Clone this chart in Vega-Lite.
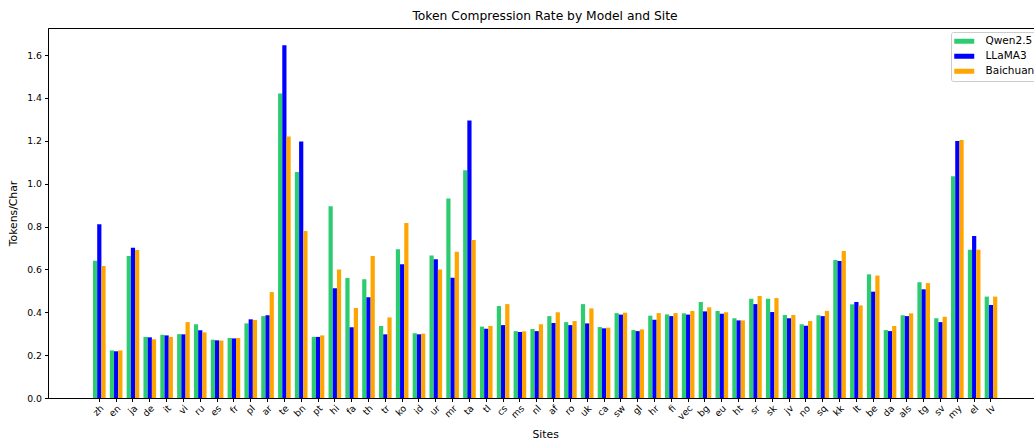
{
  "$schema": "https://vega.github.io/schema/vega-lite/v6.json",
  "autosize": {"type": "none"},
  "width": 994,
  "height": 370,
  "padding": {"left": 48, "top": 28, "right": -8, "bottom": 41},
  "title": {"text": "Token Compression Rate by Model and Site", "fontSize": 12.3, "fontWeight": "normal", "font": "DejaVu Sans", "color": "black", "offset": 6},
  "data": {"values": [
    {"site":"zh","model":"Qwen2.5","value":0.640},{"site":"zh","model":"LLaMA3","value":0.810},{"site":"zh","model":"Baichuan","value":0.616},
    {"site":"en","model":"Qwen2.5","value":0.222},{"site":"en","model":"LLaMA3","value":0.218},{"site":"en","model":"Baichuan","value":0.222},
    {"site":"ja","model":"Qwen2.5","value":0.662},{"site":"ja","model":"LLaMA3","value":0.701},{"site":"ja","model":"Baichuan","value":0.690},
    {"site":"de","model":"Qwen2.5","value":0.285},{"site":"de","model":"LLaMA3","value":0.283},{"site":"de","model":"Baichuan","value":0.274},
    {"site":"it","model":"Qwen2.5","value":0.295},{"site":"it","model":"LLaMA3","value":0.292},{"site":"it","model":"Baichuan","value":0.285},
    {"site":"vi","model":"Qwen2.5","value":0.298},{"site":"vi","model":"LLaMA3","value":0.297},{"site":"vi","model":"Baichuan","value":0.354},
    {"site":"ru","model":"Qwen2.5","value":0.344},{"site":"ru","model":"LLaMA3","value":0.316},{"site":"ru","model":"Baichuan","value":0.306},
    {"site":"es","model":"Qwen2.5","value":0.272},{"site":"es","model":"LLaMA3","value":0.269},{"site":"es","model":"Baichuan","value":0.268},
    {"site":"fr","model":"Qwen2.5","value":0.280},{"site":"fr","model":"LLaMA3","value":0.278},{"site":"fr","model":"Baichuan","value":0.280},
    {"site":"pl","model":"Qwen2.5","value":0.348},{"site":"pl","model":"LLaMA3","value":0.367},{"site":"pl","model":"Baichuan","value":0.364},
    {"site":"ar","model":"Qwen2.5","value":0.382},{"site":"ar","model":"LLaMA3","value":0.386},{"site":"ar","model":"Baichuan","value":0.494},
    {"site":"te","model":"Qwen2.5","value":1.421},{"site":"te","model":"LLaMA3","value":1.646},{"site":"te","model":"Baichuan","value":1.220},
    {"site":"bn","model":"Qwen2.5","value":1.054},{"site":"bn","model":"LLaMA3","value":1.197},{"site":"bn","model":"Baichuan","value":0.779},
    {"site":"pt","model":"Qwen2.5","value":0.285},{"site":"pt","model":"LLaMA3","value":0.285},{"site":"pt","model":"Baichuan","value":0.292},
    {"site":"hi","model":"Qwen2.5","value":0.894},{"site":"hi","model":"LLaMA3","value":0.512},{"site":"hi","model":"Baichuan","value":0.600},
    {"site":"fa","model":"Qwen2.5","value":0.560},{"site":"fa","model":"LLaMA3","value":0.330},{"site":"fa","model":"Baichuan","value":0.420},
    {"site":"th","model":"Qwen2.5","value":0.554},{"site":"th","model":"LLaMA3","value":0.470},{"site":"th","model":"Baichuan","value":0.662},
    {"site":"tr","model":"Qwen2.5","value":0.336},{"site":"tr","model":"LLaMA3","value":0.297},{"site":"tr","model":"Baichuan","value":0.376},
    {"site":"ko","model":"Qwen2.5","value":0.694},{"site":"ko","model":"LLaMA3","value":0.624},{"site":"ko","model":"Baichuan","value":0.816},
    {"site":"id","model":"Qwen2.5","value":0.302},{"site":"id","model":"LLaMA3","value":0.297},{"site":"id","model":"Baichuan","value":0.300},
    {"site":"ur","model":"Qwen2.5","value":0.665},{"site":"ur","model":"LLaMA3","value":0.647},{"site":"ur","model":"Baichuan","value":0.600},
    {"site":"mr","model":"Qwen2.5","value":0.931},{"site":"mr","model":"LLaMA3","value":0.561},{"site":"mr","model":"Baichuan","value":0.682},
    {"site":"ta","model":"Qwen2.5","value":1.063},{"site":"ta","model":"LLaMA3","value":1.295},{"site":"ta","model":"Baichuan","value":0.737},
    {"site":"tl","model":"Qwen2.5","value":0.333},{"site":"tl","model":"LLaMA3","value":0.323},{"site":"tl","model":"Baichuan","value":0.336},
    {"site":"cs","model":"Qwen2.5","value":0.429},{"site":"cs","model":"LLaMA3","value":0.340},{"site":"cs","model":"Baichuan","value":0.438},
    {"site":"ms","model":"Qwen2.5","value":0.312},{"site":"ms","model":"LLaMA3","value":0.308},{"site":"ms","model":"Baichuan","value":0.311},
    {"site":"nl","model":"Qwen2.5","value":0.322},{"site":"nl","model":"LLaMA3","value":0.312},{"site":"nl","model":"Baichuan","value":0.344},
    {"site":"af","model":"Qwen2.5","value":0.382},{"site":"af","model":"LLaMA3","value":0.350},{"site":"af","model":"Baichuan","value":0.400},
    {"site":"ro","model":"Qwen2.5","value":0.354},{"site":"ro","model":"LLaMA3","value":0.340},{"site":"ro","model":"Baichuan","value":0.359},
    {"site":"uk","model":"Qwen2.5","value":0.438},{"site":"uk","model":"LLaMA3","value":0.348},{"site":"uk","model":"Baichuan","value":0.418},
    {"site":"ca","model":"Qwen2.5","value":0.331},{"site":"ca","model":"LLaMA3","value":0.325},{"site":"ca","model":"Baichuan","value":0.328},
    {"site":"sw","model":"Qwen2.5","value":0.396},{"site":"sw","model":"LLaMA3","value":0.389},{"site":"sw","model":"Baichuan","value":0.398},
    {"site":"gl","model":"Qwen2.5","value":0.317},{"site":"gl","model":"LLaMA3","value":0.312},{"site":"gl","model":"Baichuan","value":0.320},
    {"site":"hr","model":"Qwen2.5","value":0.384},{"site":"hr","model":"LLaMA3","value":0.365},{"site":"hr","model":"Baichuan","value":0.396},
    {"site":"fi","model":"Qwen2.5","value":0.390},{"site":"fi","model":"LLaMA3","value":0.382},{"site":"fi","model":"Baichuan","value":0.396},
    {"site":"vec","model":"Qwen2.5","value":0.395},{"site":"vec","model":"LLaMA3","value":0.389},{"site":"vec","model":"Baichuan","value":0.406},
    {"site":"bg","model":"Qwen2.5","value":0.448},{"site":"bg","model":"LLaMA3","value":0.404},{"site":"bg","model":"Baichuan","value":0.423},
    {"site":"eu","model":"Qwen2.5","value":0.406},{"site":"eu","model":"LLaMA3","value":0.393},{"site":"eu","model":"Baichuan","value":0.400},
    {"site":"ht","model":"Qwen2.5","value":0.372},{"site":"ht","model":"LLaMA3","value":0.362},{"site":"ht","model":"Baichuan","value":0.362},
    {"site":"sr","model":"Qwen2.5","value":0.463},{"site":"sr","model":"LLaMA3","value":0.438},{"site":"sr","model":"Baichuan","value":0.476},
    {"site":"sk","model":"Qwen2.5","value":0.463},{"site":"sk","model":"LLaMA3","value":0.401},{"site":"sk","model":"Baichuan","value":0.466},
    {"site":"jv","model":"Qwen2.5","value":0.387},{"site":"jv","model":"LLaMA3","value":0.372},{"site":"jv","model":"Baichuan","value":0.387},
    {"site":"no","model":"Qwen2.5","value":0.344},{"site":"no","model":"LLaMA3","value":0.337},{"site":"no","model":"Baichuan","value":0.359},
    {"site":"sq","model":"Qwen2.5","value":0.386},{"site":"sq","model":"LLaMA3","value":0.382},{"site":"sq","model":"Baichuan","value":0.406},
    {"site":"kk","model":"Qwen2.5","value":0.644},{"site":"kk","model":"LLaMA3","value":0.639},{"site":"kk","model":"Baichuan","value":0.686},
    {"site":"lt","model":"Qwen2.5","value":0.437},{"site":"lt","model":"LLaMA3","value":0.448},{"site":"lt","model":"Baichuan","value":0.432},
    {"site":"be","model":"Qwen2.5","value":0.577},{"site":"be","model":"LLaMA3","value":0.496},{"site":"be","model":"Baichuan","value":0.571},
    {"site":"da","model":"Qwen2.5","value":0.317},{"site":"da","model":"LLaMA3","value":0.312},{"site":"da","model":"Baichuan","value":0.336},
    {"site":"als","model":"Qwen2.5","value":0.386},{"site":"als","model":"LLaMA3","value":0.382},{"site":"als","model":"Baichuan","value":0.395},
    {"site":"tg","model":"Qwen2.5","value":0.540},{"site":"tg","model":"LLaMA3","value":0.507},{"site":"tg","model":"Baichuan","value":0.536},
    {"site":"sv","model":"Qwen2.5","value":0.372},{"site":"sv","model":"LLaMA3","value":0.354},{"site":"sv","model":"Baichuan","value":0.379},
    {"site":"my","model":"Qwen2.5","value":1.035},{"site":"my","model":"LLaMA3","value":1.199},{"site":"my","model":"Baichuan","value":1.203},
    {"site":"el","model":"Qwen2.5","value":0.692},{"site":"el","model":"LLaMA3","value":0.756},{"site":"el","model":"Baichuan","value":0.692},
    {"site":"lv","model":"Qwen2.5","value":0.473},{"site":"lv","model":"LLaMA3","value":0.434},{"site":"lv","model":"Baichuan","value":0.473}
  ]},
  "mark": {"type": "bar"},
  "encoding": {
    "x": {"field": "site", "type": "nominal", "sort": null, "title": "Sites",
      "scale": {"range": [42.9, 951.4], "paddingInner": 0.25, "paddingOuter": 0.125},
      "axis": {"labelAngle": -45, "labelAlign": "right", "labelBaseline": "top", "titleY": 30, "labelPadding": 2}},
    "xOffset": {"field": "model", "type": "nominal", "scale": {"domain": ["Qwen2.5", "LLaMA3", "Baichuan"], "paddingInner": 0, "paddingOuter": 0}},
    "y": {"field": "value", "type": "quantitative", "title": "Tokens/Char",
      "scale": {"domain": [0, 1.726], "nice": false, "zero": true},
      "axis": {"values": [0, 0.2, 0.4, 0.6, 0.8, 1.0, 1.2, 1.4, 1.6], "format": ".1f", "titlePadding": 8}},
    "color": {"field": "model", "type": "nominal",
      "scale": {"domain": ["Qwen2.5", "LLaMA3", "Baichuan"], "range": ["#2ecc71", "#0000ff", "#ffa500"]},
      "legend": {"title": null, "orient": "none", "legendX": 903, "legendY": 4,
        "symbolType": "M-2,-0.5H2V0.5H-2Z", "symbolSize": 100, "symbolStrokeWidth": 0,
        "labelFontSize": 10.5, "rowPadding": 4, "padding": 4, "symbolOffset": 4, "labelOffset": 16,
        "strokeColor": "#cccccc", "fillColor": "white", "cornerRadius": 2, "labelColor": "black"}}
  },
  "config": {
    "font": "DejaVu Sans",
    "view": {"stroke": "black", "strokeWidth": 1},
    "axis": {"grid": false, "domainColor": "black", "tickColor": "black", "labelColor": "black", "titleColor": "black",
      "tickSize": 3.5, "labelFontSize": 9.3, "titleFontSize": 10.8, "titleFontWeight": "normal", "labelPadding": 3, "labelFont": "DejaVu Sans", "titleFont": "DejaVu Sans"},
    "legend": {"labelFont": "DejaVu Sans"}
  }
}
